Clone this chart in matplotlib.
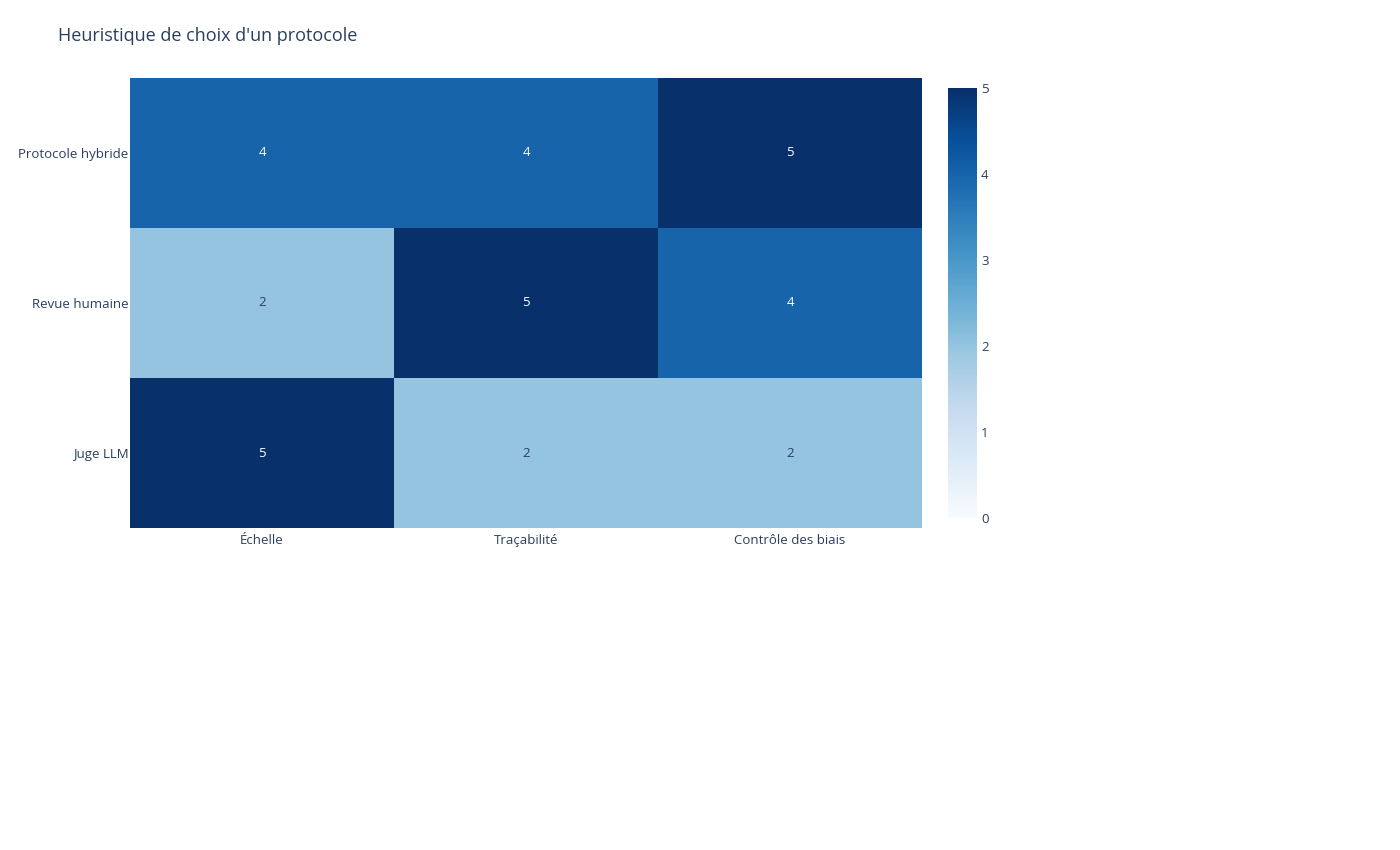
import numpy as np
import matplotlib
matplotlib.use("Agg")
import matplotlib.pyplot as plt
from matplotlib.colors import LinearSegmentedColormap

plt.rcParams['font.family'] = ['Open Sans', 'DejaVu Sans']

protocoles = ["Juge LLM", "Revue humaine", "Protocole hybride"]
criteres = ["Échelle", "Traçabilité", "Contrôle des biais"]
scores = np.array([
    [5, 2, 2],
    [2, 5, 4],
    [4, 4, 5],
])

blues = ['#f7fbff', '#deebf7', '#c6dbef', '#9ecae1', '#6baed6',
         '#4292c6', '#2171b5', '#08519c', '#08306b']
cmap = LinearSegmentedColormap.from_list("blues", blues)

fig = plt.figure(figsize=(14, 8.5), dpi=100)
ax = fig.add_axes([130/1400, 1 - 528/850, 792/1400, 450/850])
cax = fig.add_axes([948/1400, 1 - 518/850, 29/1400, 430/850])

mesh = ax.pcolormesh(np.arange(4) - 0.5, np.arange(4) - 0.5, scores,
                     cmap=cmap, vmin=0, vmax=5)
for i in range(scores.shape[0]):
    for j in range(scores.shape[1]):
        v = scores[i, j]
        ax.text(j, i, str(v), ha='center', va='center', fontsize=9.5,
                color='white' if v >= 3 else '#2a3f5f')

ax.set_xticks(range(3))
ax.set_xticklabels(criteres)
ax.set_yticks(range(3))
ax.set_yticklabels(protocoles)
ax.tick_params(length=0, labelsize=9.5, colors='#2a3f5f', pad=4)
ax.tick_params(axis='y', pad=1)
for s in ax.spines.values():
    s.set_visible(False)

cb = fig.colorbar(mesh, cax=cax)
cb.outline.set_visible(False)
cb.set_ticks([0, 1, 2, 3, 4, 5])
cax.tick_params(length=0, labelsize=9.5, colors='#2a3f5f', pad=3)

fig.text(58/1400, 1 - 36/850, "Heuristique de choix d'un protocole",
         fontsize=13, color='#2a3f5f', va='center')

fig.savefig("out.png", dpi=100, facecolor='white')
